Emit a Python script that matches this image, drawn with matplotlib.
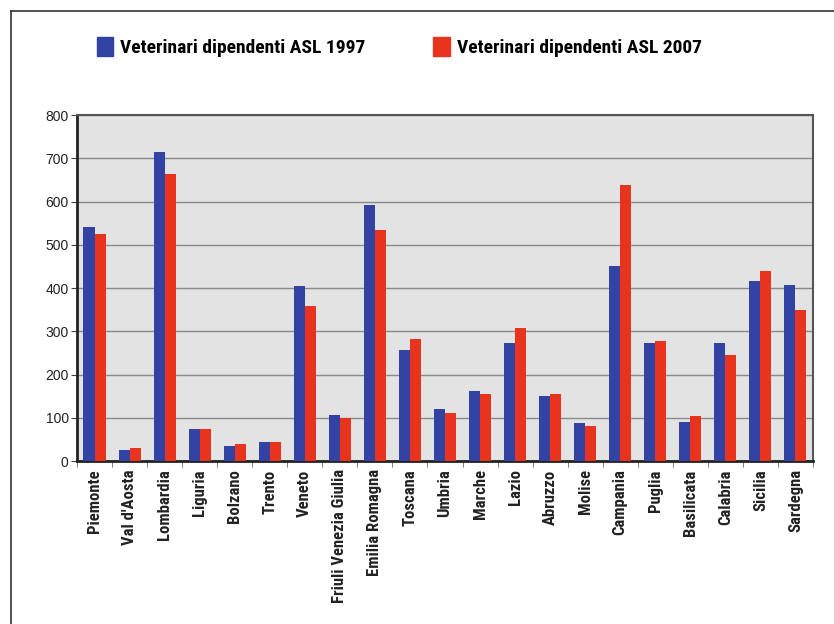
import matplotlib
matplotlib.use("Agg")
import matplotlib.pyplot as plt
from matplotlib.lines import Line2D
from matplotlib.patches import Patch
from matplotlib import font_manager
import numpy as np

regions = ["Piemonte", "Val d'Aosta", "Lombardia", "Liguria", "Bolzano", "Trento",
           "Veneto", "Friuli Venezia Giulia", "Emilia Romagna", "Toscana", "Umbria",
           "Marche", "Lazio", "Abruzzo", "Molise", "Campania", "Puglia", "Basilicata",
           "Calabria", "Sicilia", "Sardegna"]
vet_1997 = [541, 25, 715, 73, 35, 45, 404, 106, 593, 257, 121,
            162, 273, 151, 87, 452, 272, 91, 273, 417, 408]
vet_2007 = [525, 29, 663, 73, 40, 43, 359, 100, 535, 282, 110,
            156, 308, 156, 81, 638, 278, 103, 246, 440, 349]
series_names = ["Veterinari dipendenti ASL 1997", "Veterinari dipendenti ASL 2007"]
y_ticks = [0, 100, 200, 300, 400, 500, 600, 700, 800]

blue = "#3343a3"
red = "#e8331f"

installed = {f.name for f in font_manager.fontManager.ttflist}
narrow = [n for n in ["Roboto Condensed", "Liberation Sans Narrow", "Roboto"] if n in installed]
if not narrow:
    narrow = ["DejaVu Sans"]

fig = plt.figure(figsize=(8.34, 6.24), dpi=100)
ax = fig.add_axes([0.0923, 0.2612, 0.8825, 0.5545])
ax.set_facecolor("#e3e3e3")

x = np.arange(len(regions))
w = 0.315
ax.bar(x - w / 2, vet_1997, w, color=blue, zorder=3)
ax.bar(x + w / 2, vet_2007, w, color=red, zorder=3)

ax.set_xlim(-0.5, len(regions) - 0.5)
ax.set_ylim(0, 800)
ax.set_yticks(y_ticks)
ax.set_yticklabels([str(v) for v in y_ticks], fontsize=10, family="Liberation Sans", color="#222222")
ax.yaxis.grid(True, color="#8a8a8a", linewidth=1.0, zorder=1)
ax.set_axisbelow(True)

ax.set_xticks(x)
ax.set_xticklabels(regions, rotation=90, fontsize=12, family=narrow, fontweight="bold",
                   color="#222222")
ax.tick_params(axis="x", which="major", length=0, pad=6)
ax.set_xticks(np.arange(-0.5, len(regions), 1), minor=True)
ax.tick_params(axis="x", which="minor", length=4, color="#666666", direction="out")
ax.tick_params(axis="y", length=4, color="#444444", pad=2)

for side in ["left", "bottom"]:
    ax.spines[side].set_linewidth(2)
    ax.spines[side].set_color("#222222")
for side in ["top", "right"]:
    ax.spines[side].set_linewidth(1.5)
    ax.spines[side].set_color("#555555")

handles = [Patch(color=blue), Patch(color=red)]
fig.legend(handles, series_names, loc="upper left", bbox_to_anchor=(0.095, 0.968),
           ncol=2, frameon=False, handlelength=0.85, handleheight=1.1, handletextpad=0.35,
           columnspacing=3.5, prop={"family": narrow, "weight": "bold", "size": 14})

# outer frame (left and top edges)
fig.add_artist(Line2D([0.0126, 0.0126], [0.0, 0.9824], color="#333333", linewidth=1.2))
fig.add_artist(Line2D([0.0126, 1.0], [0.9824, 0.9824], color="#333333", linewidth=1.2))

fig.savefig("out.png", dpi=100)
